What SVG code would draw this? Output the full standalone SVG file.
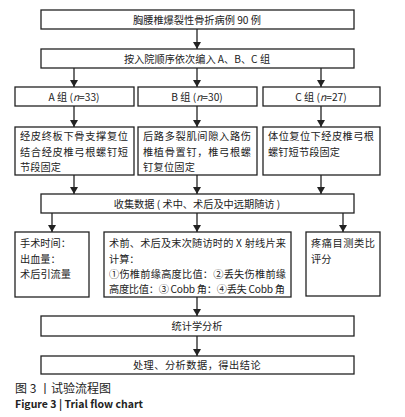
<svg xmlns="http://www.w3.org/2000/svg" width="405" height="417" viewBox="0 0 405 417">
<style>
.b{fill:#fff;stroke:#222;stroke-width:1.3}
.t{font-family:"Noto Sans CJK SC","Liberation Sans",sans-serif;font-size:10.2px;fill:#222}
.c{text-anchor:middle}
.l{fill:none;stroke:#222;stroke-width:1.3}
.cap{font-family:"Noto Sans CJK SC","Liberation Sans",sans-serif;fill:#222}
</style>
<defs>
<marker id="ah" markerWidth="7" markerHeight="8" refX="7" refY="4" orient="auto" markerUnits="userSpaceOnUse">
<path d="M0,0 L7,4 L0,8 Z" fill="#222"/>
</marker>
</defs>
<rect width="405" height="417" fill="#fff"/>
<g id="connectors">
<line class="l" x1="197" y1="29" x2="197" y2="49" marker-end="url(#ah)"/>
<line class="l" x1="74" y1="68" x2="74" y2="87" marker-end="url(#ah)"/>
<line class="l" x1="197" y1="68" x2="197" y2="87" marker-end="url(#ah)"/>
<line class="l" x1="321" y1="68" x2="321" y2="87" marker-end="url(#ah)"/>
<line class="l" x1="74" y1="106" x2="74" y2="127" marker-end="url(#ah)"/>
<line class="l" x1="197" y1="106" x2="197" y2="127" marker-end="url(#ah)"/>
<line class="l" x1="321" y1="106" x2="321" y2="127" marker-end="url(#ah)"/>
<line class="l" x1="74" y1="175" x2="74" y2="194" marker-end="url(#ah)"/>
<line class="l" x1="197" y1="175" x2="197" y2="194" marker-end="url(#ah)"/>
<line class="l" x1="321" y1="175" x2="321" y2="194" marker-end="url(#ah)"/>
<line class="l" x1="52" y1="213" x2="52" y2="232" marker-end="url(#ah)"/>
<line class="l" x1="197" y1="213" x2="197" y2="232" marker-end="url(#ah)"/>
<line class="l" x1="343" y1="213" x2="343" y2="232" marker-end="url(#ah)"/>
<line class="l" x1="197" y1="297" x2="197" y2="316" marker-end="url(#ah)"/>
<line class="l" x1="197" y1="336" x2="197" y2="356" marker-end="url(#ah)"/>
</g>
<g id="n1"><rect class="b" x="41" y="10" width="313" height="19"/><text class="t c" x="197" y="23.5">胸腰椎爆裂性骨折病例 90 例</text></g>
<g id="n2"><rect class="b" x="41" y="49" width="313" height="19"/><text class="t c" x="197" y="62.5">按入院顺序依次编入 A、B、C 组</text></g>
<g id="nA"><rect class="b" x="15" y="87" width="119" height="19"/><text class="t c" x="74" y="100.5">A 组 (<tspan font-style="italic">n</tspan>=33)</text></g>
<g id="nB"><rect class="b" x="138" y="87" width="119" height="19"/><text class="t c" x="197" y="100.5">B 组 (<tspan font-style="italic">n</tspan>=30)</text></g>
<g id="nC"><rect class="b" x="263" y="87" width="117" height="19"/><text class="t c" x="321" y="100.5">C 组 (<tspan font-style="italic">n</tspan>=27)</text></g>
<g id="dA"><rect class="b" x="15" y="127" width="119" height="48"/>
<text class="t" x="20" y="140" textLength="108" lengthAdjust="spacing">经皮终板下骨支撑复位</text>
<text class="t" x="20" y="156" textLength="108" lengthAdjust="spacing">结合经皮椎弓根螺钉短</text>
<text class="t" x="20" y="171" textLength="41" lengthAdjust="spacing">节段固定</text></g>
<g id="dB"><rect class="b" x="138" y="127" width="119" height="48"/>
<text class="t" x="143" y="140" textLength="108" lengthAdjust="spacing">后路多裂肌间隙入路伤</text>
<text class="t" x="143" y="156" textLength="108" lengthAdjust="spacing">椎植骨置钉，椎弓根螺</text>
<text class="t" x="143" y="171" textLength="52" lengthAdjust="spacing">钉复位固定</text></g>
<g id="dC"><rect class="b" x="263" y="127" width="117" height="48"/>
<text class="t" x="268" y="140" textLength="106" lengthAdjust="spacing">体位复位下经皮椎弓根</text>
<text class="t" x="268" y="156" textLength="72" lengthAdjust="spacing">螺钉短节段固定</text></g>
<g id="col"><rect class="b" x="41" y="194" width="313" height="19"/><text class="t c" x="197" y="207.5">收集数据 ( 术中、术后及中远期随访 )</text></g>
<g id="o1"><rect class="b" x="15" y="232" width="74" height="65"/>
<text class="t" x="20" y="247">手术时间：</text>
<text class="t" x="20" y="263">出血量：</text>
<text class="t" x="20" y="278" textLength="51" lengthAdjust="spacing">术后引流量</text></g>
<g id="o2"><rect class="b" x="104" y="232" width="187" height="65"/>
<text class="t" x="109" y="247" textLength="177" lengthAdjust="spacing">术前、术后及末次随访时的 X 射线片来</text>
<text class="t" x="109" y="263">计算：</text>
<text class="t" x="109" y="278" textLength="177" lengthAdjust="spacing">①伤椎前缘高度比值：②丢失伤椎前缘</text>
<text class="t" x="109" y="293" textLength="176" lengthAdjust="spacing">高度比值：③ Cobb 角：④丢失 Cobb 角</text></g>
<g id="o3"><rect class="b" x="306" y="232" width="74" height="64"/>
<text class="t" x="311" y="247" textLength="64" lengthAdjust="spacing">疼痛目测类比</text>
<text class="t" x="311" y="263">评分</text></g>
<g id="st"><rect class="b" x="41" y="316" width="313" height="20"/><text class="t c" x="197" y="330">统计学分析</text></g>
<g id="fin"><rect class="b" x="41" y="356" width="313" height="18"/><text class="t c" x="197" y="369" letter-spacing="0.5">处理、分析数据，得出结论</text></g>
<text class="cap" x="15" y="393" font-size="12">图 3 丨试验流程图</text>
<text class="cap" x="15" y="408" font-size="10.5" font-weight="bold" font-family="'Open Sans','Liberation Sans',sans-serif" textLength="128" lengthAdjust="spacing">Figure 3  |  Trial flow chart</text>
</svg>
